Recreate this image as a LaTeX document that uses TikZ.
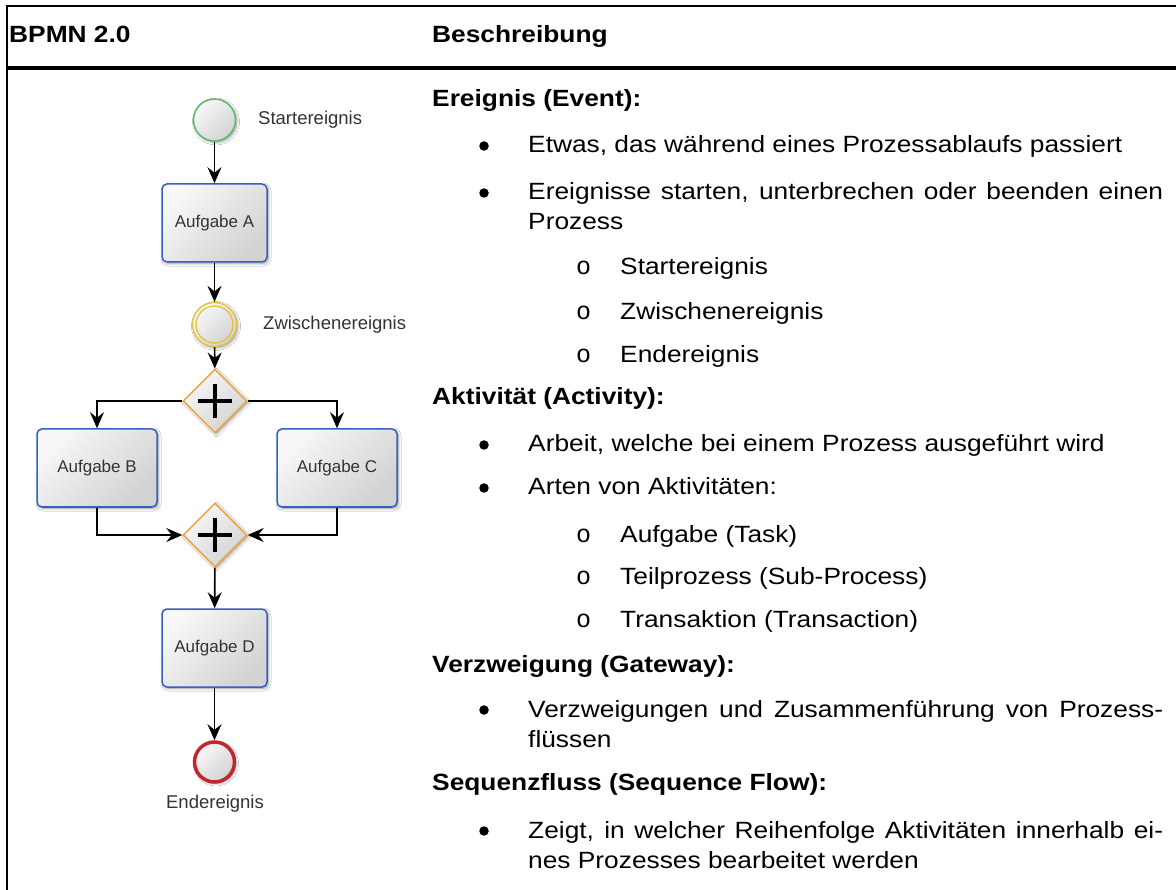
\documentclass[tikz,border=0pt]{standalone}
\usepackage{fontspec}
\setmainfont{Liberation Sans}[FakeStretch=1.12]
\newfontfamily\diafont{Liberation Sans}
\newfontfamily\listmono{Liberation Mono}
\usetikzlibrary{shapes.geometric,arrows.meta,shadows.blur}

\definecolor{taskblue}{HTML}{3560C4}
\definecolor{startgreen}{HTML}{5DBB63}
\definecolor{midyellow}{HTML}{E3C33B}
\definecolor{endred}{HTML}{C1272D}
\definecolor{gateorange}{HTML}{EFA33A}
\definecolor{labelgray}{HTML}{333333}
\definecolor{fillhi}{HTML}{F8F8F8}
\definecolor{filllo}{HTML}{D2D2D2}

\tikzset{
  bpshade/.style={shading=axis, top color=fillhi, bottom color=filllo, shading angle=45,
    blur shadow={shadow xshift=1.5pt, shadow yshift=-1.5pt, shadow blur radius=2.5pt,
      shadow blur steps=6, shadow opacity=40}},
  dialabel/.style={font=\diafont\fontsize{17}{20}\selectfont, text=labelgray},
  task/.style={bpshade, dialabel, draw=taskblue, line width=1.5pt, rounded corners=5pt,
    minimum width=105pt, minimum height=78pt, inner sep=0pt},
  widetask/.style={task, minimum width=120pt},
  evt/.style={bpshade, circle, minimum size=42pt, inner sep=0pt},
  gate/.style={bpshade, diamond, draw=gateorange, line width=1.4pt, minimum width=64pt,
    minimum height=64pt, inner sep=0pt,
    path picture={\draw[line width=4.5pt, black]
      ([xshift=-17pt]path picture bounding box.center) -- ([xshift=17pt]path picture bounding box.center)
      ([yshift=-17pt]path picture bounding box.center) -- ([yshift=17pt]path picture bounding box.center);}},
  flow/.style={line width=1.6pt, -{Stealth[length=16pt,width=14pt,inset=5.5pt]}},
  evlabel/.style={dialabel, font=\diafont\fontsize{18.5}{21}\selectfont, inner sep=0pt},
  body/.style={anchor=base west, inner sep=0pt, font=\fontsize{23.5}{28}\selectfont},
  head/.style={body, font=\bfseries\fontsize{23.5}{28}\selectfont},
  dot/.style={circle, fill=black, inner sep=0pt, minimum size=9.5pt},
  ring/.style={body, font=\listmono\fontsize{25}{28}\selectfont},
}

\newcommand{\fullline}[1]{\makebox[635pt][s]{#1}}

\begin{document}
\begin{tikzpicture}[x=1pt, y=-1pt]
  \fill[white] (0,0) rectangle (1176,890);
  \useasboundingbox (0,0) rectangle (1176,890);

  % table frame
  \draw[line width=2pt] (7,6) -- (1176,6);
  \draw[line width=3.5pt] (7,68) -- (1176,68);
  \draw[line width=2pt] (7,5) -- (7,890);

  % column headers
  \node[head] (hleft) at (9,43) {BPMN 2.0};
  \node[head] (hright) at (432,43) {Beschreibung};

  % process diagram
  \node[evt, draw=startgreen, line width=1.5pt] (start) at (214.5,120) {};
  \node[evlabel, anchor=west] (startlbl) at (258,120) {Startereignis};
  \node[task] (ta) at (214.5,223) {Aufgabe A};
  \node[evt, draw=midyellow, line width=1.3pt, minimum size=44pt] (mid) at (214.5,324.5) {};
  \draw[midyellow, line width=1.3pt] (mid.center) circle (18.5);
  \node[evlabel, anchor=west] (midlbl) at (263,325) {Zwischenereignis};
  \node[gate] (g1) at (215,401) {};
  \node[widetask] (tb) at (97,468) {Aufgabe B};
  \node[widetask] (tc) at (337,468) {Aufgabe C};
  \node[gate] (g2) at (215,535) {};
  \node[task] (td) at (214.5,648) {Aufgabe D};
  \node[evt, draw=endred, line width=3.5pt, minimum size=40pt] (stop) at (214.5,762) {};
  \node[evlabel] (stoplbl) at (215,804) {Endereignis};

  \draw[flow] (start) -- (ta);
  \draw[flow] (ta) -- (mid);
  \draw[flow] (mid) -- (g1);
  \draw[flow] (g1.west) -| (tb.north);
  \draw[flow] (g1.east) -| (tc.north);
  \draw[flow] (tb.south) |- (g2.west);
  \draw[flow] (tc.south) |- (g2.east);
  \draw[flow] (g2) -- (td);
  \draw[flow] (td) -- (stop);

  % description column
  \node[head] (s1) at (432,107) {Ereignis (Event):};
  \node[dot] (b1) at (484,146) {};
  \node[body] (l1) at (528,153) {Etwas, das während eines Prozessablaufs passiert};
  \node[dot] (b2) at (484,193) {};
  \node[body] (l2) at (528,200) {\fullline{Ereignisse starten, unterbrechen oder beenden einen}};
  \node[body] (l3) at (528,230) {Prozess};
  \node[ring] (r1) at (576,275) {o};
  \node[body] (l4) at (620,275) {Startereignis};
  \node[ring] (r2) at (576,320) {o};
  \node[body] (l5) at (620,320) {Zwischenereignis};
  \node[ring] (r3) at (576,363) {o};
  \node[body] (l6) at (620,363) {Endereignis};

  \node[head] (s2) at (432,405) {Aktivität (Activity):};
  \node[dot] (b3) at (484,445) {};
  \node[body] (l7) at (528,452) {Arbeit, welche bei einem Prozess ausgeführt wird};
  \node[dot] (b4) at (484,488) {};
  \node[body] (l8) at (528,495) {Arten von Aktivitäten:};
  \node[ring] (r4) at (576,542) {o};
  \node[body] (l9) at (620,542) {Aufgabe (Task)};
  \node[ring] (r5) at (576,584) {o};
  \node[body] (l10) at (620,584) {Teilprozess (Sub-Process)};
  \node[ring] (r6) at (576,627) {o};
  \node[body] (l11) at (620,627) {Transaktion (Transaction)};

  \node[head] (s3) at (432,672) {Verzweigung (Gateway):};
  \node[dot] (b5) at (484,710) {};
  \node[body] (l12) at (528,717) {\fullline{Verzweigungen und Zusammenführung von Prozess-}};
  \node[body] (l13) at (528,747) {flüssen};

  \node[head] (s4) at (432,790) {Sequenzfluss (Sequence Flow):};
  \node[dot] (b6) at (484,831) {};
  \node[body] (l14) at (528,838) {\fullline{Zeigt, in welcher Reihenfolge Aktivitäten innerhalb ei-}};
  \node[body] (l15) at (528,868) {nes Prozesses bearbeitet werden};
\end{tikzpicture}
\end{document}
